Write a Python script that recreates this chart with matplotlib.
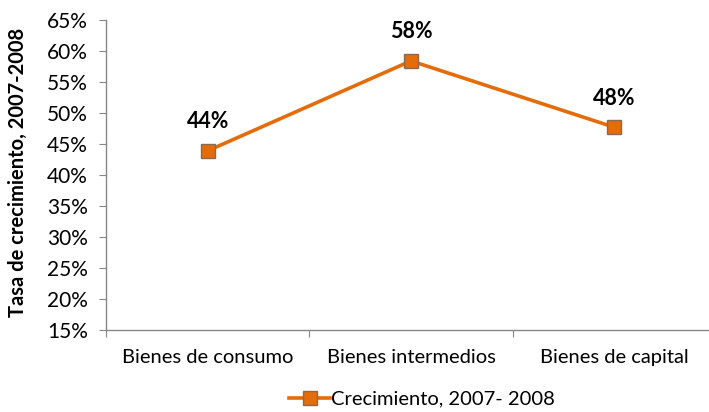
import matplotlib.pyplot as plt
from matplotlib.ticker import FuncFormatter, MultipleLocator

categories = ['Bienes de consumo', 'Bienes intermedios', 'Bienes de capital']
growth = [43.9, 58.4, 47.7]
labels = ['44%', '58%', '48%']

plt.rcParams['font.family'] = ['Lato', 'DejaVu Sans']

fig = plt.figure(figsize=(7.09, 4.12), dpi=100)
# axis runs past the right edge like the original crop
ax = fig.add_axes([106 / 709, (412 - 330) / 412, 610 / 709, 310 / 412])

x = [0, 1, 2]
orange = '#E46C0A'
ax.plot(x, growth, color=orange, linewidth=2.6, marker='s', markersize=10,
        markerfacecolor=orange, markeredgecolor='#8C6A50', markeredgewidth=1.0,
        label='Crecimiento, 2007- 2008', zorder=3)

for xi, v, t in zip(x, growth, labels):
    ax.annotate(t, (xi, v), xytext=(0, 21), textcoords='offset points',
                ha='center', va='center', fontsize=15.5, fontweight='bold', color='black')

ax.set_xlim(-0.5, 2.5)
ax.set_ylim(15, 65)
ax.yaxis.set_major_locator(MultipleLocator(5))
ax.yaxis.set_major_formatter(FuncFormatter(lambda v, p: f'{v:.0f}%'))
ax.set_xticks([-0.5, 0.5, 1.5, 2.5])
ax.set_xticklabels([])
ax.set_xticks(x, minor=True)
ax.set_xticklabels(categories, minor=True, fontsize=14.5)
ax.tick_params(axis='x', which='minor', length=0, pad=14)
ax.tick_params(axis='x', which='major', length=5, color='#888888', direction='out')
ax.tick_params(axis='y', length=5, color='#888888', labelsize=15, pad=8)

for side in ['top', 'right']:
    ax.spines[side].set_visible(False)
for side in ['left', 'bottom']:
    ax.spines[side].set_color('#888888')
    ax.spines[side].set_linewidth(1.0)

fig.text(18 / 709, 1 - 172 / 412, 'Tasa de crecimiento, 2007-2008', rotation=90,
         ha='center', va='center', fontsize=14.5, fontweight='bold')

fig.legend(loc='center', bbox_to_anchor=(422 / 709, 1 - 399 / 412), frameon=False,
           fontsize=14.5, handlelength=2.0, handletextpad=0.05)

fig.savefig('out.png', dpi=100)
